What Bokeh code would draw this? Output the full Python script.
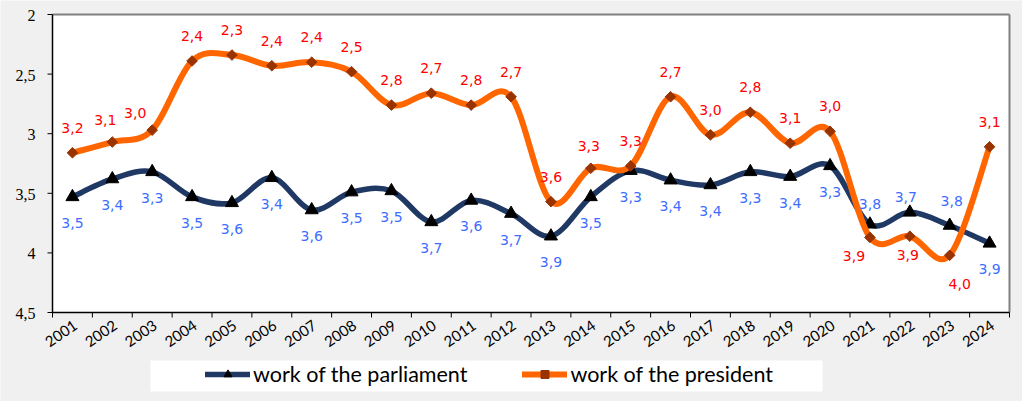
import math
from bokeh.plotting import figure
from bokeh.models import Range1d, ColumnDataSource, Legend, LegendItem
from bokeh.embed import file_html
from bokeh.resources import INLINE

years = list(range(2001, 2025))
parliament = [3.53, 3.38, 3.32, 3.53, 3.58, 3.37, 3.64, 3.49, 3.48, 3.74, 3.56, 3.67,
              3.86, 3.53, 3.31, 3.39, 3.43, 3.32, 3.36, 3.27, 3.76, 3.66, 3.77, 3.92]
president = [3.16, 3.07, 2.97, 2.39, 2.34, 2.43, 2.40, 2.48, 2.76, 2.66, 2.76, 2.69,
             3.57, 3.29, 3.27, 2.69, 3.01, 2.82, 3.08, 2.98, 3.87, 3.86, 4.02, 3.11]
y_ticks = [2, 2.5, 3, 3.5, 4, 4.5]
y_tick_labels = ["2", "2,5", "3", "3,5", "4", "4,5"]
series_names = ["work of the parliament", "work of the president"]

# ---- layout (pixels) ----
W, H = 1022, 401
PL, PR, PT, PB = 52, 1009, 14, 312      # plot area edges
Y0, Y1 = y_ticks[0], y_ticks[-1]
X0, X1 = years[0] - 0.5, years[-1] + 0.5
XU = (PR - PL) / (X1 - X0)
YU = (PB - PT) / (Y1 - Y0)


def px_x(px):
    return X0 + (px - PL) / XU


def px_y(py):
    return Y0 + (py - PT) / YU


# label placement (style only)
PRES_DEFAULT = (0, -25)
PARL_DEFAULT = (0, 26)
pres_offsets = {2002: (-7, -22), 2003: (-17, -17), 2014: (-2, -22),
                2021: (-16, 19), 2022: (-2, 19), 2023: (10, 29)}
parl_offsets = {2021: (0, -20), 2022: (-4, -15), 2023: (2, -24)}

NAVY = "#1f3864"
ORANGE = "#ff6600"
BROWN = "#993300"
RED = "#ff0000"
BLUE = "#3d6dff"
BG = "#f0f0f0"

p = figure(width=W, height=H, output_backend="svg", toolbar_location=None,
           x_axis_location=None, y_axis_location=None,
           x_range=Range1d(px_x(0), px_x(W)), y_range=Range1d(px_y(H), px_y(0)),
           min_border_left=0, min_border_right=0, min_border_top=0, min_border_bottom=0)
p.background_fill_color = BG
p.border_fill_color = BG
p.outline_line_alpha = 0
p.grid.visible = False

# plot area
p.quad(left=[X0], right=[X1], bottom=[Y1], top=[Y0], fill_color="white", line_alpha=0)
p.segment(x0=[X0, X1], y0=[Y0, Y0], x1=[X1, X1], y1=[Y0, Y1], line_color="#808080", line_width=2)
p.segment(x0=[X0, X0], y0=[Y0, Y1], x1=[X0, X1], y1=[Y1, Y1], line_color="black", line_width=1.5)
# x ticks (between categories) and labels
bounds = [y - 0.5 for y in years] + [years[-1] + 0.5]
p.segment(x0=bounds, y0=[Y1] * len(bounds), x1=bounds, y1=[Y1 + 5 / YU] * len(bounds),
          line_color="black", line_width=1)
p.text(x=years, y=[Y1] * len(years), text=[str(y) for y in years],
       x_offset=3, y_offset=11, angle=0.6, text_align="right", text_baseline="middle",
       text_font={"value": "Lato"}, text_font_size="15px", text_color="black")
# y ticks and labels
p.segment(x0=[X0 - 5 / XU] * len(y_ticks), y0=y_ticks, x1=[X0] * len(y_ticks), y1=y_ticks,
          line_color="black", line_width=1)
p.text(x=[X0] * len(y_ticks), y=y_ticks, text=y_tick_labels,
       x_offset=-17, y_offset=1, text_align="right", text_baseline="middle",
       text_font={"value": "Liberation Serif"}, text_font_size="16px", text_color="black")


def smooth(xs, ys):
    n = len(xs)
    out = {k: [] for k in ["x0", "y0", "x1", "y1", "cx0", "cy0", "cx1", "cy1"]}
    for i in range(n - 1):
        xm, ym = (xs[i - 1], ys[i - 1]) if i > 0 else (xs[i], ys[i])
        xp, yp = (xs[i + 2], ys[i + 2]) if i + 2 < n else (xs[i + 1], ys[i + 1])
        out["x0"].append(xs[i]); out["y0"].append(ys[i])
        out["x1"].append(xs[i + 1]); out["y1"].append(ys[i + 1])
        out["cx0"].append(xs[i] + (xs[i + 1] - xm) / 6)
        out["cy0"].append(ys[i] + (ys[i + 1] - ym) / 6)
        out["cx1"].append(xs[i + 1] - (xp - xs[i]) / 6)
        out["cy1"].append(ys[i + 1] - (yp - ys[i]) / 6)
    return ColumnDataSource(out)


# parliament
p.bezier(x0="x0", y0="y0", x1="x1", y1="y1", cx0="cx0", cy0="cy0", cx1="cx1", cy1="cy1",
         source=smooth(years, parliament), line_color=NAVY, line_width=5.5, line_cap="round")
m1 = p.scatter(years, parliament, marker="triangle", size=13, fill_color="black", line_color="black")
# president
p.bezier(x0="x0", y0="y0", x1="x1", y1="y1", cx0="cx0", cy0="cy0", cx1="cx1", cy1="cy1",
         source=smooth(years, president), line_color=ORANGE, line_width=6, line_cap="round")
m2 = p.scatter(years, president, marker="square", angle=0.7854, size=7.5,
               fill_color=BROWN, line_color=BROWN)


def labels(vals, offsets, default, color):
    src = ColumnDataSource(dict(
        x=years, y=vals,
        t=[f"{v:.1f}".replace(".", ",") for v in vals],
        dx=[offsets.get(yr, default)[0] for yr in years],
        dy=[offsets.get(yr, default)[1] for yr in years]))
    p.text(x="x", y="y", text="t", x_offset="dx", y_offset="dy", source=src,
           text_align="center", text_baseline="middle", text_color=color,
           text_font_size="14px", text_font={"value": "DejaVu Sans"})


labels(parliament, parl_offsets, PARL_DEFAULT, BLUE)
labels(president, pres_offsets, PRES_DEFAULT, RED)

# legend
LB_L, LB_R, LB_T, LB_B = 150, 822, 360, 391
p.quad(left=[px_x(LB_L)], right=[px_x(LB_R)], top=[px_y(LB_T)], bottom=[px_y(LB_B)],
       fill_color="white", line_alpha=0)
l1 = p.line([years[0]], [math.nan], line_color=NAVY, line_width=5.5, line_cap="round")
l2 = p.line([years[0]], [math.nan], line_color=ORANGE, line_width=6, line_cap="round")
legend = Legend(items=[LegendItem(label=series_names[0], renderers=[l1, m1]),
                       LegendItem(label=series_names[1], renderers=[l2, m2])],
                location=(201, H - LB_B), orientation="horizontal",
                background_fill_alpha=0, border_line_alpha=0,
                glyph_width=45, glyph_height=20, label_standoff=3, spacing=55,
                padding=4, margin=0,
                label_text_font="Lato", label_text_font_size="21.5px", label_text_color="black")
p.add_layout(legend, "center")

html = file_html(p, INLINE)
html = html.replace("<body>", '<body style="background-color:#f0f0f0">', 1)
open("out.html", "w").write(html)
